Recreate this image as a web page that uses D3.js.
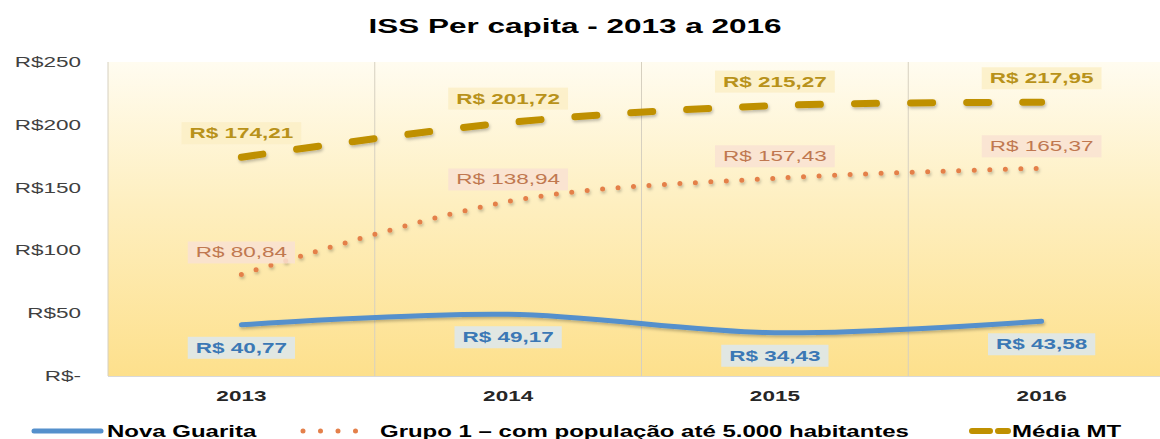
<!DOCTYPE html>
<html>
<head>
<meta charset="utf-8">
<script src="https://cdn.jsdelivr.net/npm/d3@7"></script>
<style>
  body { margin: 0; background: #ffffff; }
  text { font-family: Arial, "Liberation Sans", sans-serif; }
</style>
</head>
<body>
<svg id="chart" width="1160" height="439"></svg>
<script>
// data
const years = ["2013", "2014", "2015", "2016"];
const novaGuarita = [40.77, 49.17, 34.43, 43.58];
const grupo1 = [80.84, 138.94, 157.43, 165.37];
const mediaMT = [174.21, 201.72, 215.27, 217.95];
const yTicks = [0, 50, 100, 150, 200, 250];
const seriesNames = ["Nova Guarita", "Grupo 1 \u2013 com popula\u00e7\u00e3o at\u00e9 5.000 habitantes", "M\u00e9dia MT"];

// the original picture is stretched sideways, so text is too
const sx = 1.5;

var svg = d3.select("#chart");
var plotLeft = 108, plotRight = 1175, plotTop = 62, plotBottom = 376;

var x = d3.scaleBand().domain(years).range([plotLeft, plotRight]);
var y = d3.scaleLinear().domain([0, 250]).range([plotBottom, plotTop]);
var cx = function(d) { return x(d) + x.bandwidth() / 2; };

var defs = svg.append("defs");
var grad = defs.append("linearGradient")
    .attr("id", "bg")
    .attr("x1", 0).attr("y1", 0).attr("x2", 0).attr("y2", 1);
grad.append("stop").attr("offset", "0%").attr("stop-color", "#fffcf0");
grad.append("stop").attr("offset", "45%").attr("stop-color", "#feefc0");
grad.append("stop").attr("offset", "100%").attr("stop-color", "#fde08c");

var shadow = defs.append("filter").attr("id", "shadow")
    .attr("x", "-5%").attr("y", "-50%").attr("width", "110%").attr("height", "200%");
shadow.append("feDropShadow")
    .attr("dx", 1).attr("dy", 2).attr("stdDeviation", 1.5)
    .attr("flood-color", "#000").attr("flood-opacity", 0.25);

// helper: place a text stretched horizontally around its anchor
function stretched(g, tx, ty, str) {
  return g.append("text")
      .attr("transform", "translate(" + tx + "," + ty + ") scale(" + sx + ",1)")
      .text(str);
}

// title
stretched(svg, 575, 33, "ISS Per capita - 2013 a 2016")
    .attr("text-anchor", "middle")
    .attr("font-size", 21)
    .attr("font-weight", "bold")
    .attr("fill", "#000");

// plot background
svg.append("rect")
    .attr("x", plotLeft).attr("y", plotTop)
    .attr("width", plotRight - plotLeft).attr("height", plotBottom - plotTop)
    .attr("fill", "url(#bg)");

// vertical gridlines between categories
svg.append("g").selectAll("line")
    .data(years)
    .join("line")
    .attr("x1", function(d) { return x(d); })
    .attr("x2", function(d) { return x(d); })
    .attr("y1", plotTop).attr("y2", plotBottom)
    .attr("stroke", "#d6d0c0").attr("stroke-width", 1);

svg.append("line")
    .attr("x1", plotLeft).attr("x2", plotRight)
    .attr("y1", plotBottom + 0.5).attr("y2", plotBottom + 0.5)
    .attr("stroke", "#d9d9d9");

// y axis labels
var yAxis = svg.append("g");
yTicks.forEach(function(t) {
  stretched(yAxis, 81, y(t) + 5, t === 0 ? "R$-" : "R$" + t)
      .attr("text-anchor", "end")
      .attr("font-size", 15)
      .attr("fill", "#404040");
});

// x axis labels
var xAxis = svg.append("g");
years.forEach(function(d) {
  stretched(xAxis, cx(d), 401, d)
      .attr("text-anchor", "middle")
      .attr("font-size", 15)
      .attr("font-weight", "bold")
      .attr("fill", "#262626");
});

// series
var series = [
  { name: seriesNames[0], values: novaGuarita, color: "#5590cc", width: 5, dash: null,
    labelDy: 23, labelFill: "#dce8f0", labelColor: "#3b78b5", bold: true },
  { name: seriesNames[1], values: grupo1, color: "#e4804a", width: 5, dash: "0,15.5",
    labelDy: -22, labelFill: "#f9e2d2", labelColor: "#c07850", bold: false },
  { name: seriesNames[2], values: mediaMT, color: "#bf9000", width: 7, dash: "22,34",
    labelDy: -24, labelFill: "#fcefc6", labelColor: "#b8921a", bold: true }
];

var line = d3.line()
    .x(function(d, i) { return cx(years[i]); })
    .y(function(d) { return y(d); })
    .curve(d3.curveCardinal.tension(0));

series.forEach(function(s) {
  svg.append("path")
      .datum(s.values)
      .attr("d", line)
      .attr("fill", "none")
      .attr("stroke", s.color)
      .attr("stroke-width", s.width)
      .attr("stroke-linecap", "round")
      .attr("stroke-dasharray", s.dash)
      .attr("filter", "url(#shadow)");
});

// data labels
var fmt = function(v) { return "R$ " + d3.format(".2f")(v).replace(".", ","); };
series.forEach(function(s) {
  var g = svg.append("g");
  s.values.forEach(function(v, i) {
    var px = cx(years[i]), py = y(v) + s.labelDy;
    var box = g.append("rect").attr("fill", s.labelFill).attr("opacity", 0.85);
    var t = stretched(g, px, py + 5, fmt(v))
        .attr("text-anchor", "middle")
        .attr("font-size", 15)
        .attr("font-weight", s.bold ? "bold" : "normal")
        .attr("fill", s.labelColor);
    var w = t.node().getComputedTextLength() * sx + 16;
    box.attr("x", px - w / 2).attr("y", py - 11)
        .attr("width", w).attr("height", 22);
  });
});

// legend
var legend = svg.append("g");
var ly = 431;
legend.append("line")
    .attr("x1", 34).attr("x2", 101).attr("y1", ly).attr("y2", ly)
    .attr("stroke", series[0].color).attr("stroke-width", 5).attr("stroke-linecap", "round");
stretched(legend, 107, ly + 6, seriesNames[0])
    .attr("font-size", 16).attr("font-weight", "bold").attr("fill", "#000");

legend.append("line")
    .attr("x1", 303).attr("x2", 373).attr("y1", ly).attr("y2", ly)
    .attr("stroke", series[1].color).attr("stroke-width", 5).attr("stroke-linecap", "round")
    .attr("stroke-dasharray", "0,17.5");
stretched(legend, 380, ly + 6, seriesNames[1])
    .attr("font-size", 16).attr("font-weight", "bold").attr("fill", "#000");

legend.append("line")
    .attr("x1", 972).attr("x2", 1008).attr("y1", ly).attr("y2", ly)
    .attr("stroke", series[2].color).attr("stroke-width", 6).attr("stroke-linecap", "round")
    .attr("stroke-dasharray", "18,8");
stretched(legend, 1012, ly + 6, seriesNames[2])
    .attr("font-size", 16).attr("font-weight", "bold").attr("fill", "#000");
</script>
</body>
</html>
